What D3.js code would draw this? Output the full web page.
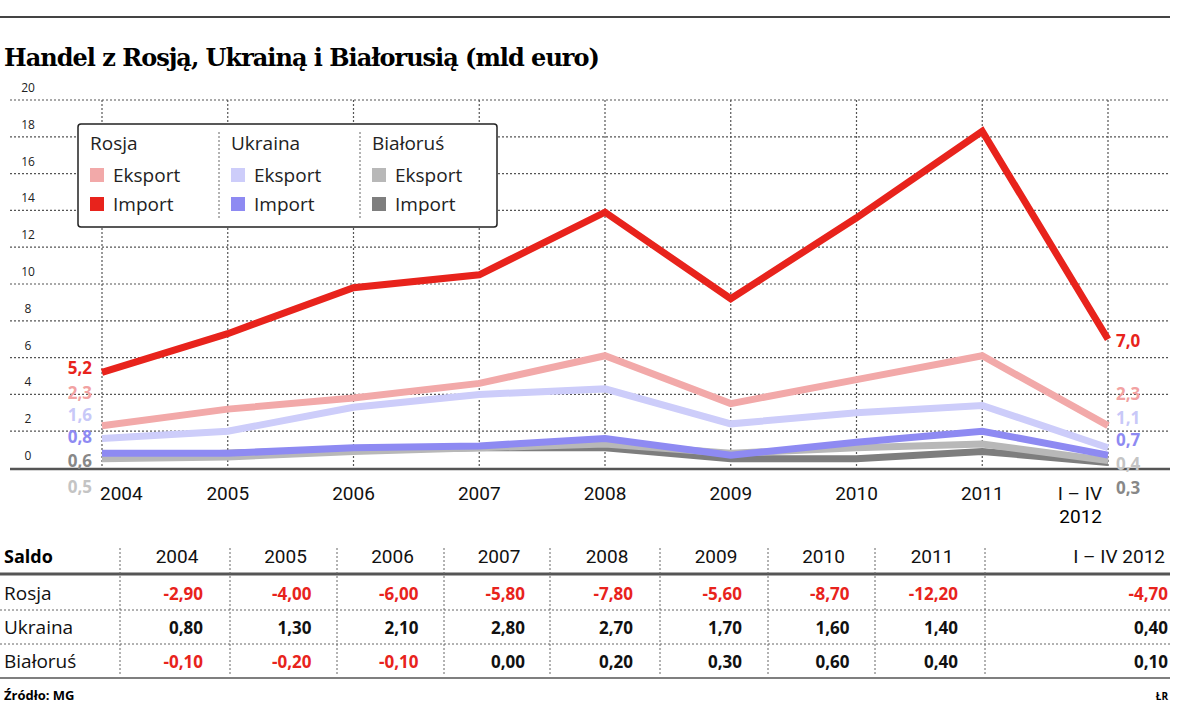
<!DOCTYPE html>
<html><head><meta charset="utf-8">
<script src="https://cdn.jsdelivr.net/npm/d3@7"></script>
<style>
body{margin:0;background:#fff;}
text{font-family:"Open Sans",sans-serif;}
.grid line{stroke:#555;stroke-dasharray:2,2;stroke-width:1.2;}
</style></head><body>
<svg id="chart" width="1200" height="714"></svg>
<script>
// data
const categories = ["2004","2005","2006","2007","2008","2009","2010","2011","I – IV 2012"];
const rosjaEksport = [2.3,3.2,3.8,4.6,6.1,3.5,4.8,6.1,2.3];
const rosjaImport = [5.2,7.3,9.8,10.5,13.9,9.2,13.6,18.3,7.0];
const ukrainaEksport = [1.6,2.0,3.3,4.0,4.3,2.4,3.0,3.4,1.1];
const ukrainaImport = [0.8,0.8,1.1,1.2,1.6,0.7,1.4,2.0,0.7];
const bialorusEksport = [0.5,0.6,0.9,1.1,1.3,0.8,1.1,1.3,0.4];
const bialorusImport = [0.6,0.8,1.0,1.1,1.1,0.5,0.5,0.9,0.3];
const yTicks = [0,2,4,6,8,10,12,14,16,18,20];
const saldoRosja = ["-2,90","-4,00","-6,00","-5,80","-7,80","-5,60","-8,70","-12,20","-4,70"];
const saldoUkraina = ["0,80","1,30","2,10","2,80","2,70","1,70","1,60","1,40","0,40"];
const saldoBialorus = ["-0,10","-0,20","-0,10","0,00","0,20","0,30","0,60","0,40","0,10"];

const svg = d3.select("#chart");
const fmt = v => d3.format(".1f")(v).replace(".", ",");
const narrow = "font-family:'Liberation Sans Narrow','Roboto',sans-serif";

// header
svg.append("line").attr("x1",0).attr("x2",1170).attr("y1",17).attr("y2",17).attr("stroke","#444").attr("stroke-width",2);
svg.append("text").attr("x",4).attr("y",66).attr("style","font-family:'DejaVu Serif',serif").attr("font-weight","bold")
  .attr("font-size",24).attr("letter-spacing",-1).text("Handel z Rosją, Ukrainą i Białorusią (mld euro)");

const x = d3.scalePoint().domain(categories).range([102,1108]);
const y = d3.scaleLinear().domain([0,20]).range([468,100]);

// grid
const grid = svg.append("g").attr("class","grid");
grid.selectAll(".h").data(yTicks.slice(1)).join("line")
  .attr("x1",10).attr("x2",1170).attr("y1",d=>y(d)).attr("y2",d=>y(d));
grid.selectAll(".v").data(categories).join("line")
  .attr("x1",d=>x(d)).attr("x2",d=>x(d)).attr("y1",y(20)).attr("y2",y(0));
svg.selectAll(".yl").data(yTicks).join("text")
  .attr("x",28).attr("y",d=>y(d)-8).attr("text-anchor","middle").attr("font-size",12).attr("fill","#222").text(d=>d);
svg.append("line").attr("x1",10).attr("x2",1170).attr("y1",y(0)+1).attr("y2",y(0)+1).attr("stroke","#555").attr("stroke-width",2.5);

// x labels
const xAnchor = (d,i)=> i===0 ? "start" : (i===8 ? "end" : "middle");
svg.selectAll(".xl").data(categories).join("text")
  .attr("x",(d,i)=>x(d)+(i===0?-2:0)+(i===8?-6:0)).attr("y",500).attr("text-anchor",xAnchor)
  .attr("font-size",19).attr("fill","#111").attr("style",narrow)
  .text(d=>d.startsWith("I") ? "I – IV" : d);
svg.append("text").attr("x",x(categories[8])-6).attr("y",523).attr("text-anchor","end").attr("font-size",19)
  .attr("style",narrow).text("2012");

// lines
const series = [
  {v:bialorusImport,c:"#7e7e7e"},
  {v:bialorusEksport,c:"#b8b8b8"},
  {v:ukrainaImport,c:"#8e8af2"},
  {v:ukrainaEksport,c:"#cdcdfa"},
  {v:rosjaEksport,c:"#f2a9a9"},
  {v:rosjaImport,c:"#e8231c"}
];
const line = d3.line().x((d,i)=>x(categories[i])).y(d=>y(d));
series.forEach(s=>{
  svg.append("path").datum(s.v).attr("d",line).attr("fill","none").attr("stroke",s.c)
    .attr("stroke-width",7).attr("stroke-linejoin","miter");
});
// end labels
const leftY = [[rosjaImport,"#e8231c",y(5.2)+2],[rosjaEksport,"#f2a2a2",399],[ukrainaEksport,"#c8c8f8",421],
  [ukrainaImport,"#8e8af2",443],[bialorusImport,"#888",467],[bialorusEksport,"#c4c4c4",493]];
leftY.forEach(([v,c,yy])=>svg.append("text").attr("x",92).attr("y",yy).attr("text-anchor","end")
  .attr("font-size",17).attr("font-weight","bold").attr("fill",c).text(fmt(v[0])));
const rightY = [[rosjaImport,"#e8231c",347],[rosjaEksport,"#f2a2a2",400],[ukrainaEksport,"#c8c8f8",424],
  [ukrainaImport,"#8e8af2",446],[bialorusEksport,"#c4c4c4",470],[bialorusImport,"#888",494]];
rightY.forEach(([v,c,yy])=>svg.append("text").attr("x",1116).attr("y",yy)
  .attr("font-size",17).attr("font-weight","bold").attr("fill",c).text(fmt(v[8])));

// legend
const lg = svg.append("g");
lg.append("rect").attr("x",78).attr("y",124).attr("width",419).attr("height",103).attr("rx",3)
  .attr("fill","#fff").attr("stroke","#222").attr("stroke-width",1.5);
const legendGroups = [["Rosja","#f2a9a9","#e8231c"],["Ukraina","#cdcdfa","#8e8af2"],["Białoruś","#b8b8b8","#7e7e7e"]];
legendGroups.forEach((g,i)=>{
  const gx = 90 + i*141;
  lg.append("text").attr("x",gx).attr("y",150).attr("font-size",19).attr("fill","#222").text(g[0]);
  [["Eksport",g[1]],["Import",g[2]]].forEach((r,j)=>{
    lg.append("rect").attr("x",gx).attr("y",168+j*29).attr("width",14).attr("height",14).attr("fill",r[1]);
    lg.append("text").attr("x",gx+23).attr("y",182+j*29).attr("font-size",19).attr("fill","#222").text(r[0]);
  });
  if(i>0) lg.append("line").attr("x1",gx-12).attr("x2",gx-12).attr("y1",132).attr("y2",218)
    .attr("stroke","#666").attr("stroke-dasharray","2,2");
});

// table
const colX = [120,230,337,444,550,660,768,875,985,1170];
const centers = categories.map((d,i)=>(colX[i]+colX[i+1])/2);
svg.append("text").attr("x",4).attr("y",563).attr("font-size",18).attr("font-weight","bold").text("Saldo");
svg.selectAll(".th").data(categories).join("text")
  .attr("x",(d,i)=>i===8?1165:centers[i]+2).attr("y",563).attr("text-anchor",(d,i)=>i===8?"end":"middle")
  .attr("font-size",19).attr("fill","#111").attr("style",narrow).text(d=>d);
svg.append("line").attr("x1",0).attr("x2",1170).attr("y1",574).attr("y2",574).attr("stroke","#555").attr("stroke-width",3);
colX.slice(0,9).forEach(cx=>svg.append("line").attr("x1",cx).attr("x2",cx).attr("y1",548).attr("y2",675)
  .attr("stroke","#666").attr("stroke-dasharray","2,2"));
const rows = [["Rosja",saldoRosja],["Ukraina",saldoUkraina],["Białoruś",saldoBialorus]];
rows.forEach((r,k)=>{
  const ry = 600 + k*34;
  svg.append("text").attr("x",4).attr("y",ry).attr("font-size",19).attr("fill","#111").text(r[0]);
  r[1].forEach((v,i)=>svg.append("text").attr("x",i===8?1168:centers[i]+28).attr("y",ry)
    .attr("text-anchor","end").attr("font-size",17).attr("font-weight","bold")
    .attr("fill",v.startsWith("-")?"#e8231c":"#111").text(v));
  if(k<2) svg.append("line").attr("x1",0).attr("x2",1170).attr("y1",ry+10).attr("y2",ry+10)
    .attr("stroke","#666").attr("stroke-dasharray","2,2");
});
svg.append("line").attr("x1",0).attr("x2",1170).attr("y1",678).attr("y2",678).attr("stroke","#555").attr("stroke-width",1.5);
svg.append("text").attr("x",4).attr("y",700).attr("font-size",13).attr("font-weight","bold").text("Źródło: MG");
svg.append("text").attr("x",1168).attr("y",700).attr("text-anchor","end").attr("font-size",10).attr("font-weight","bold").text("ŁR");
</script></body></html>
